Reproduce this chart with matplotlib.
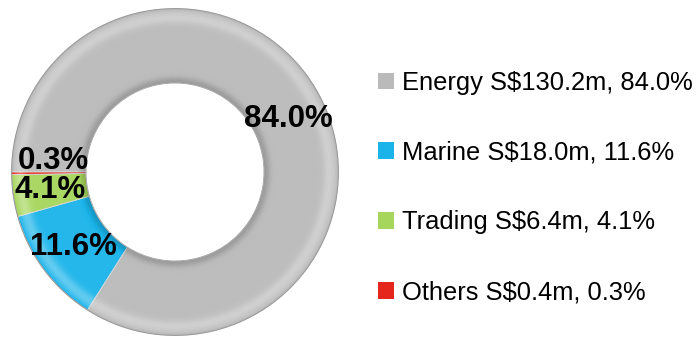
import numpy as np
import matplotlib
matplotlib.use("Agg")
import matplotlib.pyplot as plt
from matplotlib.patches import Patch, Circle

# Segment revenue, S$ million
segments = ["Energy", "Marine", "Trading", "Others"]
revenue = [130.2, 18.0, 6.4, 0.4]
colors = ["#bababa", "#1ab4ea", "#a6d65c", "#e4261c"]

W, H = 698, 338
fig = plt.figure(figsize=(W / 100, H / 100), dpi=100)
fig.patch.set_facecolor("white")

# donut axes: centre (175, 172) px, outer radius 165 px
cx, cy, R = 175, 172, 165
ax = fig.add_axes([(cx - R) / W, (H - cy - R) / H, 2 * R / W, 2 * R / H])

r_in = 0.545
total = sum(revenue)
pcts = [v / total * 100 for v in revenue]

wedges, _, autotexts = ax.pie(
    revenue, colors=colors, startangle=180, counterclock=False,
    radius=1.0, wedgeprops=dict(width=1 - r_in, linewidth=0.6, edgecolor="#d8d8d8"),
    autopct=lambda p: f"{p:.1f}%", pctdistance=(1 + r_in) / 2,
    textprops=dict(fontsize=22.5, fontweight="bold", family="Liberation Sans", color="black"),
)

# bevel shading across the ring width: shadow at the hole, highlight near the rim
n = 45
edges = np.linspace(r_in, 1.0, n + 1)
for i in range(n):
    t = (edges[i] + edges[i + 1]) / 2
    u = (t - r_in) / (1 - r_in)
    shade = 0.05 + 0.28 * np.exp(-((u - 0.88) / 0.08) ** 2)
    shade -= 0.22 * np.exp(-(u / 0.09) ** 2)
    shade -= 0.12 * np.exp(-((1 - u) / 0.025) ** 2)
    col = (1, 1, 1, min(shade, 0.6)) if shade > 0 else (0, 0, 0, min(-shade, 0.6))
    ax.pie([1], radius=edges[i + 1], colors=[col],
           wedgeprops=dict(width=edges[i + 1] - edges[i], linewidth=0))

# thin rim outlines
ax.add_patch(Circle((0, 0), 1.0, fill=False, edgecolor="#9a9a9a", linewidth=0.8))
ax.add_patch(Circle((0, 0), r_in, fill=False, edgecolor="#a8a8a8", linewidth=0.6))

# pie() resets the limits, so fix them afterwards
ax.set_xlim(-1.01, 1.01)
ax.set_ylim(-1.01, 1.01)
ax.set_aspect("equal")
ax.axis("off")

for t in autotexts:
    t.set_zorder(10)
# nudge labels where the default placement drifts
x, y = autotexts[0].get_position()
autotexts[0].set_position((x + 0.02, y - 0.05))
x, y = autotexts[-1].get_position()
autotexts[-1].set_position((x + 0.03, y + 0.075))

labels = [f"{s} S${v:.1f}m, {p:.1f}%" for s, v, p in zip(segments, revenue, pcts)]
handles = [Patch(facecolor=c, edgecolor="none") for c in colors]
fig.legend(handles, labels, loc="upper left", bbox_to_anchor=(378 / W, 1 - 71 / H),
           frameon=False, prop=dict(family="Liberation Sans", size=18.4),
           handlelength=0.62, handleheight=0.62, handletextpad=0.3,
           labelspacing=1.79, borderpad=0, borderaxespad=0)

fig.savefig("out.png", dpi=100, facecolor="white")
